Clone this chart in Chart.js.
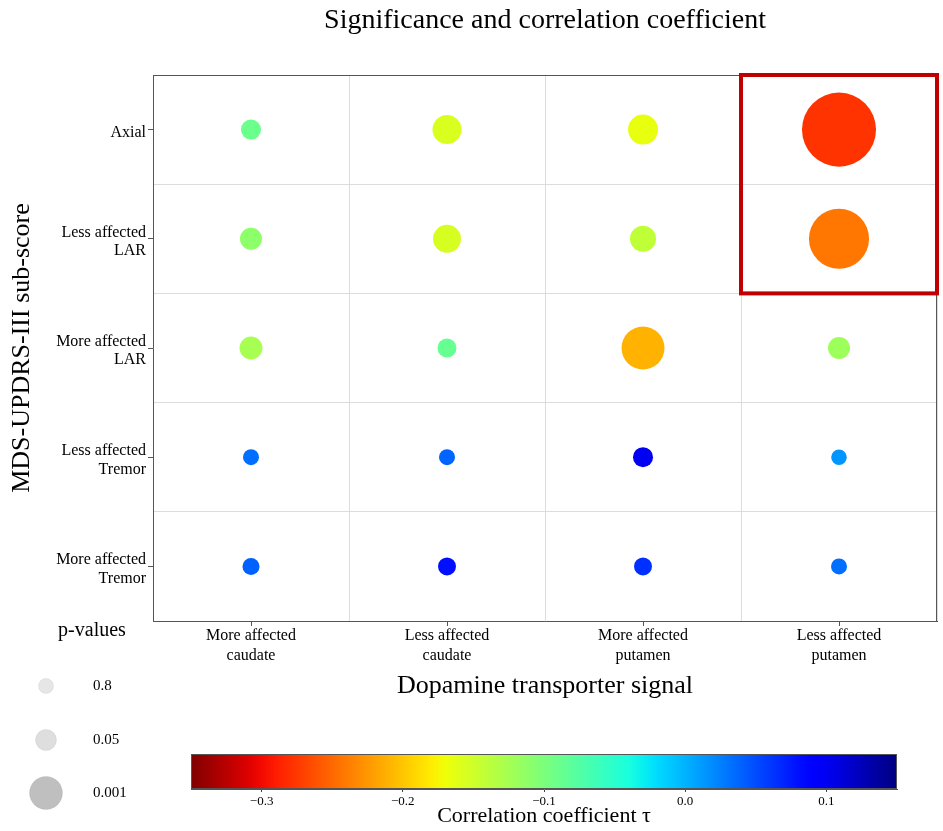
<!DOCTYPE html>
<html lang="en">
<head>
<meta charset="UTF-8">
<title>Significance and correlation coefficient</title>
<script src="https://cdn.jsdelivr.net/npm/chart.js"></script>
<style>
  html, body { margin: 0; padding: 0; background: #fff; }
  #wrap { position: relative; width: 943px; height: 831px; }
  #main { position: absolute; left: 0; top: 0; width: 943px; height: 831px; }
  #cbar { position: absolute; left: 0; top: 740px; width: 943px; height: 91px; }
</style>
</head>
<body>
<div id="wrap">
  <div id="main"><canvas id="bubbleChart"></canvas></div>
  <div id="cbar"><canvas id="cbarChart"></canvas></div>
</div>
<script>
// categories
const rowLabels = ['Axial', ['Less affected', 'LAR'], ['More affected', 'LAR'],
                   ['Less affected', 'Tremor'], ['More affected', 'Tremor']];
const colLabels = [['More affected', 'caudate'], ['Less affected', 'caudate'],
                   ['More affected', 'putamen'], ['Less affected', 'putamen']];

// correlation coefficient tau, one row per sub-score
const tauAxial      = [-0.090, -0.157, -0.166, -0.278];
const tauLessLAR    = [-0.111, -0.155, -0.141, -0.242];
const tauMoreLAR    = [-0.126, -0.087, -0.210, -0.120];
const tauLessTremor = [ 0.033,  0.038,  0.100,  0.014];
const tauMoreTremor = [ 0.040,  0.080,  0.064,  0.033];

// p-values, same layout
const pAxial      = [0.074, 0.0032, 0.0024, 1.8e-7];
const pLessLAR    = [0.034, 0.0044, 0.0083, 2.2e-6];
const pMoreLAR    = [0.024, 0.114,  8e-5,   0.034];
const pLessTremor = [0.47,  0.47,   0.074,  0.6];
const pMoreTremor = [0.28,  0.18,   0.18,   0.47];

const tauRows = [tauAxial, tauLessLAR, tauMoreLAR, tauLessTremor, tauMoreTremor];
const pRows   = [pAxial, pLessLAR, pMoreLAR, pLessTremor, pMoreTremor];

// legend and colour bar
const legendP = [0.8, 0.05, 0.001];
const tauMin = -0.35, tauMax = 0.15;
const cbTicks = [-0.3, -0.2, -0.1, 0.0, 0.1];

// highlighted cells (column, rows)
const boxCol = 3;
const boxRows = [0, 1];

const SERIF = '"Liberation Serif", "Times New Roman", serif';

// bubble radius from p-value
function pRadius(p) {
  const x = -Math.log10(p);
  return 7.3 + 2.0 * x + 0.357 * x * x;
}

function interp(t, pts) {
  for (let i = 1; i < pts.length; i++) {
    if (t <= pts[i][0]) {
      const [t0, v0] = pts[i - 1], [t1, v1] = pts[i];
      return v0 + (v1 - v0) * (t - t0) / (t1 - t0);
    }
  }
  return pts[pts.length - 1][1];
}

function jet(t) {
  t = Math.min(1, Math.max(0, t));
  const r = interp(t, [[0, 0], [0.35, 0], [0.66, 1], [0.89, 1], [1, 0.5]]);
  const g = interp(t, [[0, 0], [0.125, 0], [0.375, 1], [0.64, 1], [0.91, 0], [1, 0]]);
  const b = interp(t, [[0, 0.5], [0.11, 1], [0.34, 1], [0.65, 0], [1, 0]]);
  return `rgb(${Math.round(r * 255)},${Math.round(g * 255)},${Math.round(b * 255)})`;
}

// reversed jet: negative tau = red, positive = blue
function tauColor(v) {
  return jet(1 - (v - tauMin) / (tauMax - tauMin));
}

const isCenter = v => Math.abs(v - Math.round(v)) < 1e-6;
const halfSteps = (a, b) => { const out = []; for (let v = a; v <= b + 1e-9; v += 0.5) out.push({ value: v }); return out; };

const points = [];
tauRows.forEach((row, i) => row.forEach((v, j) => {
  points.push({ x: j, y: i, r: pRadius(pRows[i][j]), tau: v });
}));

const framePlugin = {
  id: 'frame',
  afterDatasetsDraw(chart) {
    const { ctx, chartArea: a, scales: { x, y } } = chart;
    ctx.save();
    ctx.strokeStyle = '#555';
    ctx.lineWidth = 1;
    ctx.beginPath();
    ctx.moveTo(a.left, a.top + 0.5); ctx.lineTo(a.right, a.top + 0.5);
    ctx.moveTo(a.right - 0.5, a.top); ctx.lineTo(a.right - 0.5, a.bottom);
    ctx.stroke();

    // red box around the highlighted cells
    const x0 = x.getPixelForValue(boxCol - 0.5), x1 = x.getPixelForValue(boxCol + 0.5);
    const y0 = y.getPixelForValue(boxRows[0] - 0.5), y1 = y.getPixelForValue(boxRows[boxRows.length - 1] + 0.5);
    ctx.strokeStyle = '#c00000';
    ctx.lineWidth = 4;
    ctx.strokeRect(x0, y0, x1 - x0, y1 - y0);
    ctx.restore();
  },
  afterDraw(chart) {
    const { ctx, chartArea: a } = chart;
    ctx.save();
    ctx.fillStyle = '#000';
    ctx.textAlign = 'center';
    ctx.textBaseline = 'middle';
    ctx.font = '28px ' + SERIF;
    ctx.fillText('Significance and correlation coefficient', (a.left + a.right) / 2, 21);

    // p-value size legend
    ctx.font = '20px ' + SERIF;
    ctx.fillText('p-values', 92, 631);
    const fills = ['#e6e6e6', '#dedede', '#bfbfbf'];
    const ys = [686, 740, 793];
    ctx.font = '15px ' + SERIF;
    ctx.textAlign = 'left';
    legendP.forEach((p, i) => {
      ctx.beginPath();
      ctx.arc(46, ys[i], pRadius(p), 0, Math.PI * 2);
      ctx.fillStyle = fills[i];
      ctx.fill();
      ctx.strokeStyle = 'rgba(0,0,0,0.06)';
      ctx.lineWidth = 1;
      ctx.stroke();
      ctx.fillStyle = '#000';
      ctx.fillText(String(p), 93, ys[i]);
    });
    ctx.restore();
  }
};

new Chart(document.getElementById('bubbleChart'), {
  type: 'bubble',
  data: {
    datasets: [{
      data: points,
      backgroundColor: c => (c.raw ? tauColor(c.raw.tau) : '#000'),
      borderWidth: 0,
      hoverBorderWidth: 0
    }]
  },
  options: {
    responsive: true,
    maintainAspectRatio: false,
    animation: false,
    layout: { autoPadding: false, padding: { top: 75, right: 6, left: 0, bottom: 0 } },
    plugins: { legend: { display: false }, tooltip: { enabled: false } },
    scales: {
      x: {
        type: 'linear', min: -0.5, max: 3.5,
        afterBuildTicks: s => { s.ticks = halfSteps(-0.5, 3.5); },
        afterFit: s => { s.height = 210; s.paddingLeft = 0; s.paddingRight = 0; },
        grid: {
          color: c => (c.tick && isCenter(c.tick.value) ? 'rgba(0,0,0,0)' : '#dcdcdc'),
          tickColor: c => (c.tick && isCenter(c.tick.value) ? '#555' : 'rgba(0,0,0,0)'),
          tickLength: 5
        },
        border: { display: true, color: '#555', width: 1 },
        ticks: {
          autoSkip: false, maxRotation: 0, padding: 0, color: '#000',
          font: { family: SERIF, size: 16, lineHeight: 1.25 },
          callback: v => (isCenter(v) ? colLabels[Math.round(v)] : '')
        },
        title: {
          display: true, text: 'Dopamine transporter signal', color: '#000',
          font: { family: SERIF, size: 26 }, padding: { top: 0, bottom: 129 }
        }
      },
      y: {
        type: 'linear', reverse: true, min: -0.5, max: 4.5,
        afterBuildTicks: s => { s.ticks = halfSteps(-0.5, 4.5); },
        afterFit: s => { s.width = 153; s.paddingTop = 0; s.paddingBottom = 0; },
        grid: {
          color: c => (c.tick && isCenter(c.tick.value) ? 'rgba(0,0,0,0)' : '#dcdcdc'),
          tickColor: c => (c.tick && isCenter(c.tick.value) ? '#555' : 'rgba(0,0,0,0)'),
          tickLength: 5
        },
        border: { display: true, color: '#555', width: 1 },
        ticks: {
          autoSkip: false, padding: 2, labelOffset: 3, color: '#000',
          font: { family: SERIF, size: 16, lineHeight: 1.15 },
          callback: v => (isCenter(v) ? rowLabels[Math.round(v)] : '')
        },
        title: {
          display: true, text: 'MDS-UPDRS-III sub-score', color: '#000',
          font: { family: SERIF, size: 26 }, padding: { top: 7, bottom: 0 }
        }
      }
    }
  },
  plugins: [framePlugin]
});

// colour bar
const gradientPlugin = {
  id: 'gradient',
  beforeDatasetsDraw(chart) {
    const { ctx, chartArea: a, scales: { x } } = chart;
    const g = ctx.createLinearGradient(a.left, 0, a.right, 0);
    for (let i = 0; i <= 50; i++) {
      const v = tauMin + (tauMax - tauMin) * i / 50;
      g.addColorStop((x.getPixelForValue(v) - a.left) / (a.right - a.left), tauColor(v));
    }
    ctx.save();
    ctx.fillStyle = g;
    ctx.fillRect(a.left, a.top, a.right - a.left, a.bottom - a.top);
    ctx.strokeStyle = '#555';
    ctx.lineWidth = 1;
    ctx.strokeRect(a.left + 0.5, a.top + 0.5, a.right - a.left - 1, a.bottom - a.top - 1);
    ctx.restore();
  }
};

new Chart(document.getElementById('cbarChart'), {
  type: 'scatter',
  data: { datasets: [] },
  options: {
    responsive: true,
    maintainAspectRatio: false,
    animation: false,
    layout: { padding: { left: 191, right: 46, top: 14, bottom: 0 } },
    plugins: { legend: { display: false }, tooltip: { enabled: false } },
    scales: {
      x: {
        type: 'linear', min: tauMin, max: tauMax,
        afterBuildTicks: s => { s.ticks = cbTicks.map(v => ({ value: v })); },
        afterFit: s => { s.height = 42; s.paddingLeft = 0; s.paddingRight = 0; },
        grid: { drawOnChartArea: false, tickLength: 3, color: '#444' },
        border: { display: true, color: '#555' },
        ticks: {
          padding: 2, color: '#000', font: { family: SERIF, size: 13 },
          callback: v => (v < -1e-9 ? '\u2212' : '') + Math.abs(v).toFixed(1)
        },
        title: {
          display: true, text: 'Correlation coefficient \u03c4', color: '#000',
          font: { family: SERIF, size: 22 }, padding: { top: 0, bottom: 2 }
        }
      },
      y: { display: false, min: 0, max: 1 }
    }
  },
  plugins: [gradientPlugin]
});
</script>
</body>
</html>
